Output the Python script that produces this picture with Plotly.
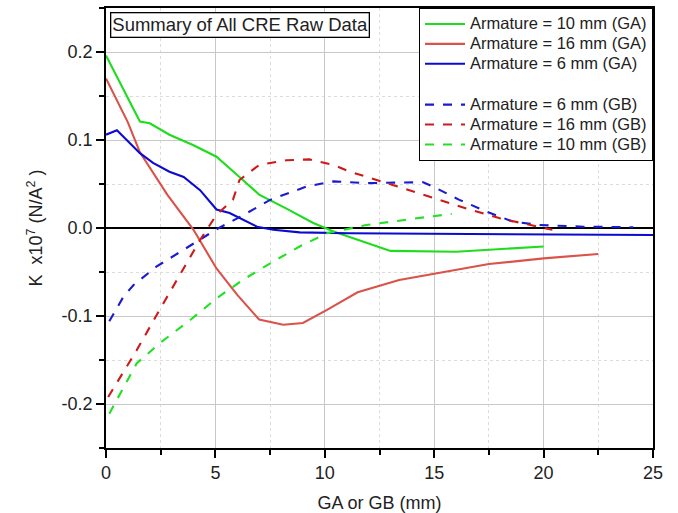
import plotly.graph_objects as go

# Armature = 10 mm (GA)
ga10_x = [0, 1.55, 2.0, 2.9, 4.0, 5.05, 6.1, 7.0, 8.25, 9.45, 10.4, 13.0, 16.0, 20.0]
ga10_y = [0.196, 0.121, 0.119, 0.106, 0.094, 0.081, 0.058, 0.038, 0.022, 0.006, -0.004, -0.026, -0.027, -0.021]
# Armature = 16 mm (GA)
ga16_x = [0, 1.0, 1.55, 2.8, 4.0, 5.05, 6.0, 7.0, 8.1, 9.0, 10.1, 11.5, 13.4, 15.0, 17.5, 20.0, 22.5]
ga16_y = [0.170, 0.120, 0.086, 0.038, -0.002, -0.046, -0.076, -0.104, -0.110, -0.108, -0.093, -0.073, -0.059, -0.052, -0.041, -0.0345, -0.0295]
# Armature = 6 mm (GA)
ga6_x = [0, 0.5, 1.55, 2.15, 2.9, 3.55, 4.3, 5.05, 5.65, 6.9, 7.65, 8.85, 11.1, 25.0]
ga6_y = [0.106, 0.111, 0.085, 0.074, 0.064, 0.058, 0.043, 0.021, 0.017, 0.0015, -0.002, -0.005, -0.006, -0.008]
# Armature = 6 mm (GB)
gb6_x = [0.15, 0.8, 1.25, 2.3, 3.4, 4.3, 5.05, 6.3, 7.5, 9.15, 10.4, 11.9, 14.5, 14.95, 16.15, 17.4, 18.6, 19.8, 21.8, 24.1]
gb6_y = [-0.106, -0.078, -0.065, -0.044, -0.027, -0.0136, -0.0015, 0.015, 0.032, 0.047, 0.053, 0.051, 0.052, 0.047, 0.032, 0.0186, 0.0072, 0.0034, 0.0015, 0.0008]
# Armature = 16 mm (GB)
gb16_x = [0.1, 0.65, 1.4, 2.45, 3.4, 4.3, 5.05, 5.8, 6.1, 7.0, 8.25, 9.3, 10.4, 11.15, 13.1, 14.95, 16.5, 18.0, 19.5, 20.4]
gb16_y = [-0.192, -0.169, -0.139, -0.093, -0.0515, -0.0136, 0.015, 0.032, 0.0545, 0.0716, 0.077, 0.078, 0.0716, 0.064, 0.049, 0.034, 0.022, 0.011, 0.0034, -0.002]
# Armature = 10 mm (GB)
gb10_x = [0.15, 0.65, 1.4, 2.45, 3.85, 5.05, 6.25, 7.65, 8.85, 10.1, 11.9, 14.2, 15.8]
gb10_y = [-0.211, -0.188, -0.154, -0.131, -0.1045, -0.080, -0.059, -0.038, -0.021, -0.006, 0.0034, 0.011, 0.016]

x_tickvals = [0, 5, 10, 15, 20, 25]
x_ticktext = ["0", "5", "10", "15", "20", "25"]
y_tickvals = [-0.2, -0.1, 0.0, 0.1, 0.2]
y_ticktext = ["-0.2", "-0.1", "0.0", "0.1", "0.2"]

series = [
    ("Armature = 10 mm (GA)", ga10_x, ga10_y, "#1fdc1f", "solid", "GA"),
    ("Armature = 16 mm (GA)", ga16_x, ga16_y, "#d9534a", "solid", "GA"),
    ("Armature = 6 mm (GA)", ga6_x, ga6_y, "#0a0ad0", "solid", "GA"),
    ("Armature = 6 mm (GB)", gb6_x, gb6_y, "#1a1ad0", "dash", "GB"),
    ("Armature = 16 mm (GB)", gb16_x, gb16_y, "#cc1a1a", "dash", "GB"),
    ("Armature = 10 mm (GB)", gb10_x, gb10_y, "#22e022", "dash", "GB"),
]

fig = go.Figure()
for name, xs, ys, color, dash, grp in series:
    fig.add_trace(go.Scatter(
        x=xs, y=ys, mode="lines",
        name='<span style="font-size:16.5px">' + name + '</span>',
        legendgroup=grp,
        line=dict(color=color, width=2.1, dash=dash),
    ))

FONT = "Liberation Sans, Arial, sans-serif"
axis_font = dict(family=FONT, size=18, color="#222")

fig.update_layout(
    width=678, height=513,
    margin=dict(l=106, r=25, t=8, b=65),
    paper_bgcolor="white", plot_bgcolor="white",
    font=dict(family=FONT, size=14, color="#222"),
    showlegend=True,
    legend=dict(
        x=1, y=1, xanchor="right", yanchor="top",
        bordercolor="black", borderwidth=1, bgcolor="white",
        font=dict(size=13, color="#222"),
        traceorder="grouped", tracegroupgap=21,
        itemwidth=40,
    ),
    annotations=[dict(
        text="Summary of All CRE Raw Data",
        xref="paper", yref="paper", x=0.008, y=0.991,
        xanchor="left", yanchor="top", showarrow=False,
        bordercolor="black", borderwidth=1.3, borderpad=1, bgcolor="white",
        font=dict(size=18.5, color="#222"),
    )],
)

fig.update_xaxes(
    range=[0, 25], tickvals=x_tickvals, ticktext=x_ticktext,
    showline=True, linecolor="black", linewidth=1.5, mirror=True,
    ticks="outside", ticklen=8, tickwidth=1.5, tickcolor="black",
    showgrid=True, gridcolor="#c8c8c8", gridwidth=1,
    zeroline=False, tickfont=axis_font, automargin=False,
    minor=dict(dtick=2.5, tick0=0, ticks="outside", ticklen=5, tickcolor="black",
               showgrid=True, gridcolor="#dcdcdc", griddash="dot"),
    title=dict(text="GA or GB (mm)", font=dict(size=18, color="#222"), standoff=16),
)
fig.update_yaxes(
    range=[-0.25, 0.25], tickvals=y_tickvals, ticktext=y_ticktext,
    showline=True, linecolor="black", linewidth=1.5, mirror=True,
    ticks="outside", ticklen=8, tickwidth=1.5, tickcolor="black",
    showgrid=True, gridcolor="#c8c8c8", gridwidth=1,
    zeroline=True, zerolinecolor="black", zerolinewidth=1.5,
    tickfont=axis_font, automargin=False,
    minor=dict(dtick=0.05, tick0=0, ticks="outside", ticklen=5, tickcolor="black",
               showgrid=True, gridcolor="#dcdcdc", griddash="dot"),
    title=dict(text="K  x10<sup>7</sup> (N/A<sup>2</sup> )", font=dict(size=18, color="#222"), standoff=14),
)

fig.write_html("out.html")
